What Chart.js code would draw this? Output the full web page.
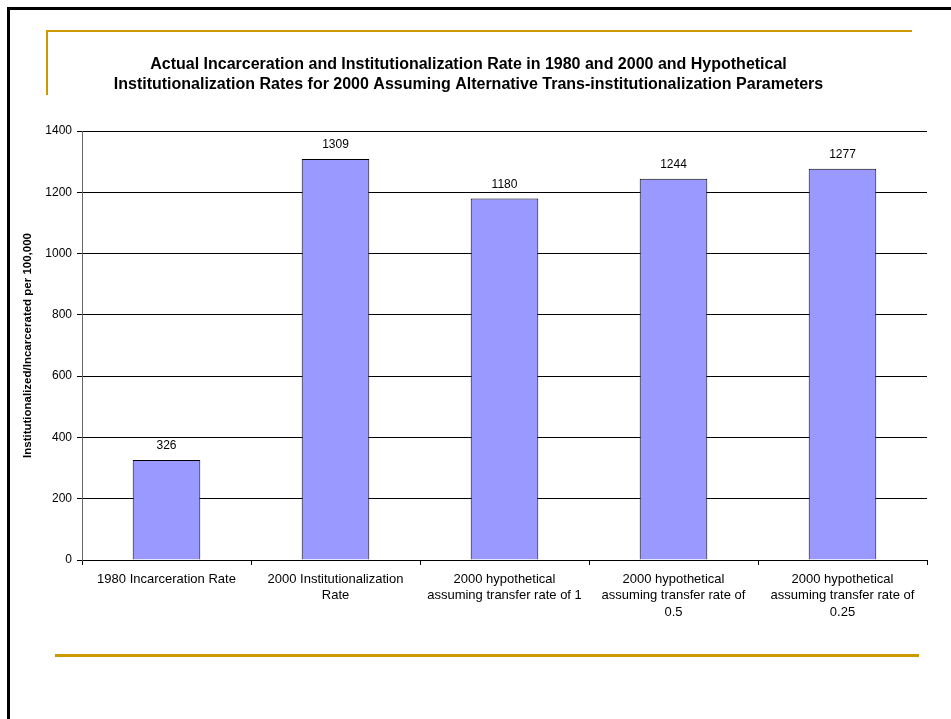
<!DOCTYPE html>
<html>
<head>
<meta charset="utf-8">
<script src="https://cdn.jsdelivr.net/npm/chart.js@4"></script>
<style>
  body { margin: 0; background: #fff; }
  #wrap { position: relative; width: 951px; height: 719px; overflow: hidden; }
  #chart { position: absolute; left: 0; top: 0; }
  .ln { position: absolute; }
</style>
</head>
<body>
<div id="wrap">
  <canvas id="chart" width="951" height="719"></canvas>
  <!-- slide frame + gold accents -->
  <div class="ln" style="left:7px;top:7px;width:944px;height:3px;background:#000"></div>
  <div class="ln" style="left:7px;top:7px;width:3px;height:712px;background:#000"></div>
  <div class="ln" style="left:46px;top:30px;width:866px;height:2px;background:#CC9900"></div>
  <div class="ln" style="left:46px;top:30px;width:2px;height:65px;background:#CC9900"></div>
  <div class="ln" style="left:55px;top:654px;width:864px;height:3px;background:#CC9900"></div>
</div>
<script>
const titleLines = [
  "Actual Incarceration and Institutionalization Rate in 1980 and 2000 and Hypothetical",
  "Institutionalization Rates for 2000 Assuming Alternative Trans-institutionalization Parameters"
];
const categories = [
  "1980 Incarceration Rate",
  ["2000 Institutionalization", "Rate"],
  ["2000 hypothetical", "assuming transfer rate of 1"],
  ["2000 hypothetical", "assuming transfer rate of", "0.5"],
  ["2000 hypothetical", "assuming transfer rate of", "0.25"]
];
const rates = [326, 1309, 1180, 1244, 1277];
const yMin = 0, yMax = 1400, yStep = 200;
const yTitle = "Institutionalized/Incarcerated per 100,000";

const FONT = "Arial, 'Liberation Sans', sans-serif";

// numbers above each bar
const valueLabels = {
  id: "valueLabels",
  afterDatasetsDraw(chart) {
    const ctx = chart.ctx;
    const meta = chart.getDatasetMeta(0);
    ctx.save();
    ctx.font = "12px " + FONT;
    ctx.fillStyle = "#000";
    ctx.textAlign = "center";
    ctx.textBaseline = "middle";
    meta.data.forEach((bar, i) => {
      ctx.fillText(String(rates[i]), bar.x, bar.y - 14);
    });
    ctx.restore();
  }
};

new Chart(document.getElementById("chart"), {
  type: "bar",
  data: {
    labels: categories,
    datasets: [{
      data: rates,
      backgroundColor: "#9999FF",
      borderColor: "#000",
      borderWidth: 1,
      categoryPercentage: 1,
      barPercentage: 0.4
    }]
  },
  options: {
    responsive: false,
    animation: false,
    layout: { padding: { left: 10, right: 24, top: 0, bottom: 0 } },
    plugins: {
      legend: { display: false },
      tooltip: { enabled: false },
      title: {
        display: true,
        text: titleLines,
        color: "#000",
        font: { family: FONT, size: 16, weight: "bold", lineHeight: 20 / 16 },
        padding: { top: 55, bottom: 36 }
      }
    },
    scales: {
      x: {
        afterFit(scale) { scale.height = 159; },
        grid: { drawOnChartArea: false, drawTicks: true, tickLength: 5, color: "#000", offset: true },
        border: { color: "#000" },
        ticks: {
          color: "#000",
          autoSkip: false,
          maxRotation: 0,
          padding: 6,
          font: { family: FONT, size: 13, lineHeight: 16.5 / 13 }
        }
      },
      y: {
        min: yMin,
        max: yMax,
        afterFit(scale) { scale.width = 72; },
        grid: { color: "#000", tickLength: 5 },
        border: { color: "#666" },
        ticks: {
          stepSize: yStep,
          color: "#000",
          padding: 5,
          font: { family: FONT, size: 12 },
          callback: (v) => String(v)
        },
        title: {
          display: true,
          text: yTitle,
          color: "#000",
          font: { family: FONT, size: 11.5, weight: "bold" },
          padding: { top: 11, bottom: 0 }
        }
      }
    }
  },
  plugins: [valueLabels]
});
</script>
</body>
</html>
